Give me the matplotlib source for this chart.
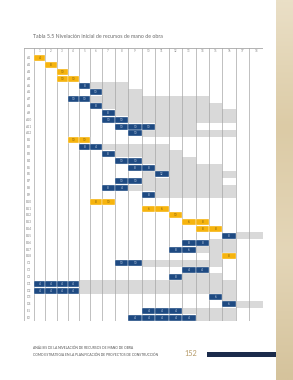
import numpy as np
import matplotlib
matplotlib.use("Agg")
import matplotlib.pyplot as plt
from matplotlib.colors import LinearSegmentedColormap

# ---------------- data ----------------
columns = [str(c) for c in range(1, 19)]
rows = (["A%d" % i for i in range(1, 13)] + ["B%d" % i for i in range(1, 19)]
        + ["C1", "C2", "C3", "D1", "D2", "D3", "D4", "E1", "E2"])

bar_start = [1, 2, 3, 3, 5, 6, 4, 6, 7, 7, 8, 9,
             4, 5, 7, 8, 9, 11, 8, 7, 10, 6, 10, 12, 13, 14, 16, 13, 12, 16,
             8, 13, 12, 1, 1, 15, 16, 10, 9]
bar_values = [[4], [8], [10], [10, 10], [8], [10], [10, 10], [8], [8], [10, 10], [10, 10, 10], [10],
              [10, 10], [8, 4], [8], [10, 10], [8, 8], [12], [10, 10], [8, 4], [8], [8, 10], [6, 6],
              [10], [6, 8], [8, 8], [8], [8, 8], [8, 6], [8],
              [10, 10], [4, 4], [8], [4, 4, 4, 4], [4, 4, 4, 4], [6], [6], [4, 4, 4], [4, 4, 4, 4, 4]]
critical = [1, 1, 1, 1, 0, 0, 0, 0, 0, 0, 0, 0,
            1, 0, 0, 0, 0, 0, 0, 0, 0, 1, 1, 1, 1, 1, 0, 0, 0, 1,
            0, 0, 0, 0, 0, 0, 0, 0, 0]
float_ranges = [[], [], [], [], [(6, 8)], [(7, 9)], [(6, 14)], [(7, 15)], [(8, 16)], [(9, 16)], [(11, 13)], [(10, 16)],
                [], [(7, 11)], [(8, 12)], [(10, 13)], [(11, 15)], [(10, 10), (12, 16)], [(10, 15)], [(9, 16)],
                [(11, 16)], [], [], [], [], [], [(17, 18)], [(15, 16)], [(14, 16)], [(15, 15)],
                [(10, 15)], [], [(13, 15)], [(5, 16)], [(5, 16)], [(16, 16)], [(17, 18)], [(13, 16)], [(14, 16)]]

title = "Tabla 5.5 Nivelación inicial de recursos de mano de obra"
footer1 = "ANÁLISIS DE LA NIVELACIÓN DE RECURSOS DE MANO DE OBRA"
footer2 = "COMO ESTRATEGIA EN LA PLANIFICACIÓN DE PROYECTOS DE CONSTRUCCIÓN"
page = "152"

# ---------------- style ----------------
W, H = 293, 380
YELLOW = "#F6B40E"
BLUE = "#1E4A82"
GRAY = "#D9D9D9"
LINE = "#A6A6A6"
TXT = "#8a8a8a"
FONT = ["Lato", "DejaVu Sans"]

fig = plt.figure(figsize=(W / 100, H / 100), dpi=100)
fig.patch.set_facecolor("white")

# page-side parchment strip
strip = fig.add_axes([276 / W, 0, 17 / W, 1])
grad = np.linspace(0, 1, 100)[:, None] * np.ones((1, 10))
cm = LinearSegmentedColormap.from_list("p", ["#EADFC6", "#DCCBA6", "#E4D6B8", "#D5C39C"])
strip.imshow(grad, aspect="auto", cmap=cm, extent=[0, 1, 0, 1])
strip.axis("off")

# table axes with non-uniform column widths (label column + narrow 1-6 + wider 7-18)
edge_units = [-1, 0, 6, 18]
edge_px = [24, 34, 101.5, 262.7]
fwd = lambda x: np.interp(x, edge_units, edge_px)
inv = lambda p: np.interp(p, edge_px, edge_units)

top_px, bot_px = 48.0, 321.3
ax = fig.add_axes([24 / W, 1 - bot_px / H, (262.7 - 24) / W, (bot_px - top_px) / H])
ax.set_xscale("function", functions=(fwd, inv))
ax.set_xlim(-1, 18)
ax.set_ylim(len(rows) - 0.5, -1.5)
ax.axis("off")

# gray float shading
for i, rngs in enumerate(float_ranges):
    for a, b in rngs:
        ax.barh(i, b - a + 1, left=a - 1, height=1.0, color=GRAY, linewidth=0, zorder=1)

# grid lines (vertical)
for c in range(-1, 19):
    ax.axvline(c, color=LINE, lw=0.5, zorder=2)
ax.axhline(-1.5, color=LINE, lw=0.6, zorder=2)

# activity bars
for i, (s, vals, crit) in enumerate(zip(bar_start, bar_values, critical)):
    col = YELLOW if crit else BLUE
    tc = "#7a5a10" if crit else "#c8d4e6"
    for j, v in enumerate(vals):
        ax.barh(i, 1, left=s - 1 + j, height=0.88, color=col, edgecolor="white",
                linewidth=0.25, zorder=3)
        ax.text(s - 0.5 + j, i, str(v), ha="center", va="center", fontsize=2.2,
                color=tc, zorder=4, family=FONT)

# header and row labels
for k, lab in enumerate(columns):
    ax.text(k + 0.5, -1.0, lab, ha="center", va="center", fontsize=2.2, color=TXT, family=FONT)
for i, lab in enumerate(rows):
    ax.text(-0.5, i, lab, ha="center", va="center", fontsize=2.4, color=TXT, family=FONT)

# title & footer
fig.text(33 / W, 1 - 36 / H, title, fontsize=3.8, color="#6a6a6a", ha="left", va="center", family=FONT)
fig.text(33 / W, 1 - 348 / H, footer1, fontsize=2.4, color="#555555", ha="left", va="center", family=FONT)
fig.text(33 / W, 1 - 355 / H, footer2, fontsize=2.4, color="#555555", ha="left", va="center", family=FONT)
fig.text(191 / W, 1 - 354 / H, page, fontsize=5.2, color="#B59A68", ha="center", va="center", family=FONT)
bar = fig.add_axes([207 / W, 1 - 356.5 / H, 69 / W, 5 / H])
bar.set_facecolor("#1B2B4B")
bar.set_xticks([]); bar.set_yticks([])
for sp in bar.spines.values():
    sp.set_visible(False)

fig.savefig("out.png", dpi=100)
